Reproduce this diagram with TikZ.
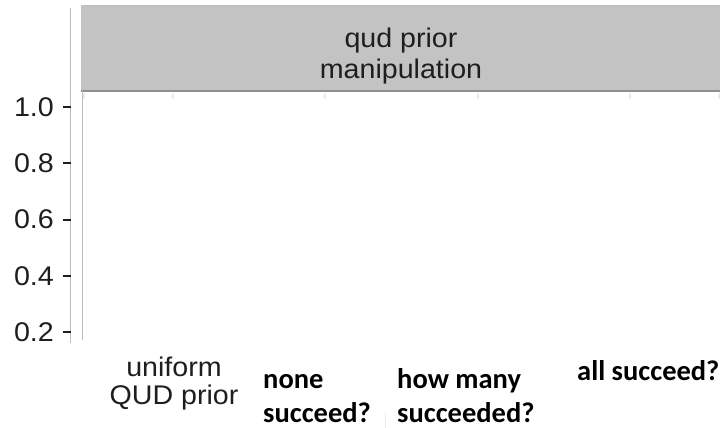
\documentclass[tikz,border=0pt]{standalone}
\usepackage{fontspec}
\setmainfont{Liberation Sans}
\newfontfamily\arialw[FakeStretch=1.06]{Liberation Sans}
\newfontfamily\calb[BoldFont=Carlito Bold]{Carlito}
\definecolor{stripfill}{HTML}{C3C3C3}
\definecolor{stripedge}{HTML}{8E8E8E}
\definecolor{axisgray}{HTML}{BDBDBD}
\definecolor{gridgray}{HTML}{EBEBEB}
\definecolor{txtdark}{HTML}{1E1E1E}
\tikzset{
  ticklab/.style={anchor=east, inner sep=0pt, font=\arialw\fontsize{27}{30}\selectfont, text=txtdark},
  striplab/.style={align=center, inner sep=0pt, font=\arialw\fontsize{27}{31}\selectfont, text=txtdark},
  catlab/.style={align=center, inner sep=0pt, font=\arialw\fontsize{27}{28}\selectfont, text=txtdark},
  boldlab/.style={align=left, inner sep=0pt, anchor=base west, font=\calb\bfseries\fontsize{28.5}{34}\selectfont, text=black},
  tickmark/.style={draw=txtdark, line width=2pt},
  gridmark/.style={draw=gridgray, line width=1.2pt}
}
\begin{document}
\begin{tikzpicture}[x=1pt,y=-1pt]
\useasboundingbox (0,0) rectangle (720,428);
% strip
\fill[stripfill] (81,5) rectangle (722,91);
\draw[axisgray, line width=0.8pt] (81,5) -- (722,5);
\draw[stripedge, line width=2pt] (81,91) -- (722,91);
\node[striplab] (strip) at (401,56) {qud prior\\manipulation};
% panel left border and axis
\draw[axisgray, line width=1pt] (82,91) -- (82,340);
\draw[axisgray, line width=1pt] (70,8) -- (70,343);
% faint grid marks under the strip
\foreach \gx in {84,173,325,478,630,719}
  \draw[gridmark] (\gx,92.5) -- (\gx,99);
% y ticks and labels
\foreach \v/\yy in {1.0/107,0.8/163.25,0.6/219.5,0.4/275.75,0.2/332}{
  \draw[tickmark] (63,\yy) -- (71,\yy);
  \node[ticklab] at (54,\yy) {\v};
}
% category labels
\node[catlab, anchor=base] (uni) at (174,376) {uniform};
\node[catlab, anchor=base] (qud) at (174,404) {QUD prior};
\node[boldlab] (none) at (263,388) {none};
\node[boldlab] (none2) at (263,422) {succeed?};
\node[boldlab] (how) at (397,388) {how many};
\node[boldlab] (how2) at (397,422) {succeeded?};
\node[boldlab] (all) at (577,380) {all succeed?};
\draw[gridgray, line width=1pt] (385,413) -- (385,428);
\end{tikzpicture}
\end{document}
